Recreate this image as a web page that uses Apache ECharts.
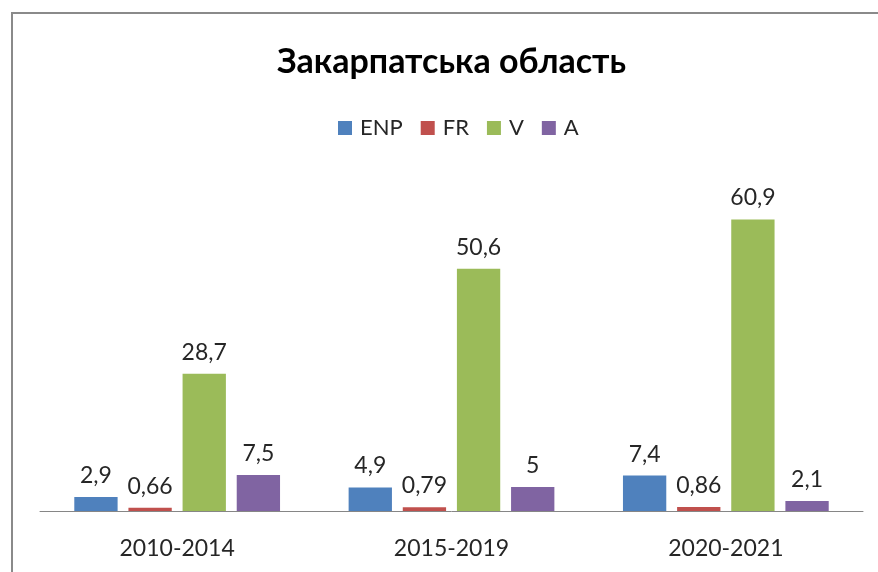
<!DOCTYPE html>
<html>
<head>
<meta charset="utf-8">
<script src="https://cdn.jsdelivr.net/npm/echarts@6/dist/echarts.min.js"></script>
<style>
  html, body { margin: 0; padding: 0; background: #fff; }
  #chart { width: 878px; height: 572px; }
</style>
</head>
<body>
<div id="chart"></div>
<script>
const categories = ["2010-2014", "2015-2019", "2020-2021"];
const enp = [2.9, 4.9, 7.4];
const fr = [0.66, 0.79, 0.86];
const v = [28.7, 50.6, 60.9];
const a = [7.5, 5, 2.1];

const colors = ["#4F81BD", "#C0504D", "#9BBB59", "#8064A2"];
const font = "Lato";

const fmt = (p) => String(p.value).replace(".", ",");

const makeSeries = (name, data) => ({
  name,
  type: "bar",
  data,
  barGap: "25%",
  barCategoryGap: "25%",
  label: {
    show: true,
    position: "top",
    distance: 10,
    formatter: fmt,
    color: "#262626",
    fontFamily: font,
    fontSize: 23,
  },
});

const chart = echarts.init(document.getElementById("chart"), null, { renderer: "canvas" });
chart.setOption({
  animation: false,
  color: colors,
  title: {
    text: "Закарпатська область",
    left: 272,
    top: 40,
    textStyle: { fontFamily: font, fontWeight: "bold", fontSize: 34, color: "#000" },
  },
  legend: {
    top: 112,
    left: 333,
    itemWidth: 14,
    itemHeight: 14,
    itemGap: 18,
    icon: "rect",
    textStyle: { fontFamily: font, fontSize: 22, color: "#262626", padding: [0, 0, 0, 3] },
  },
  grid: { left: 40, right: 15, top: 176, bottom: 61 },
  xAxis: {
    type: "category",
    data: categories,
    axisLine: { lineStyle: { color: "#868686", width: 1 } },
    axisTick: { show: false },
    axisLabel: { fontFamily: font, fontSize: 23, color: "#262626", margin: 26 },
  },
  yAxis: {
    type: "value",
    min: 0,
    max: 70,
    show: false,
    splitLine: { show: false },
  },
  graphic: [
    {
      type: "rect",
      shape: { x: 12, y: 13, width: 900, height: 600 },
      style: { fill: "none", stroke: "#8a8a8a", lineWidth: 2 },
      silent: true,
    },
  ],
  series: [
    makeSeries("ENP", enp),
    makeSeries("FR", fr),
    makeSeries("V", v),
    makeSeries("A", a),
  ],
});
</script>
</body>
</html>
